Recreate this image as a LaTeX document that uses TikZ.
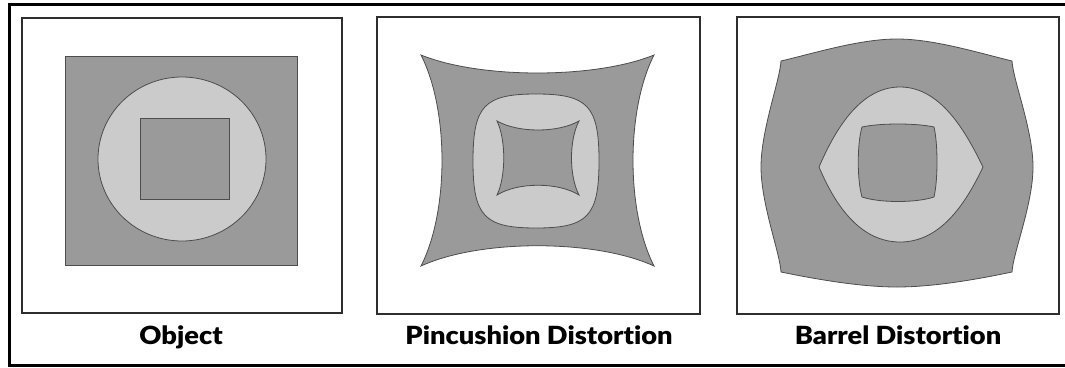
\documentclass[tikz,border=0pt]{standalone}
\usepackage{fontspec}
\IfFontExistsTF{Lato Black}
  {\setmainfont{Lato}[BoldFont={Lato Black}, Ligatures={NoCommon}]\newcommand{\capscale}{1.09}}
  {\setmainfont{Lato}[BoldFeatures={FakeBold=1.5}, Ligatures={NoCommon}]\newcommand{\capscale}{1.2}}
\definecolor{darkfill}{HTML}{9A9A9A}
\definecolor{lightfill}{HTML}{CBCBCB}
\definecolor{edge}{HTML}{4D4D4D}
\definecolor{boxline}{HTML}{2E2E2E}
\tikzset{
  darkshape/.style={fill=darkfill, draw=edge, line width=0.8pt},
  lightshape/.style={fill=lightfill, draw=edge, line width=0.8pt},
  panel/.style={draw=boxline, line width=2pt},
  caption/.style={anchor=base, font=\fontsize{25}{26}\selectfont\bfseries, inner sep=0pt}
}
\begin{document}
\begin{tikzpicture}[x=1pt, y=-1pt]
\useasboundingbox (0,0) rectangle (1065,367);
% outer frame (cut off at right)
\draw[line width=3pt, black] (1075,4) -- (9,4) -- (9,365) -- (1075,365);
% panels
\draw[panel] (22,18) rectangle (342,313);
\draw[panel] (377,17) rectangle (700,314);
\draw[panel] (737,17) rectangle (1059,314);

% ---------- Object ----------
\draw[darkshape] (65,56) rectangle (297,265);
\draw[lightshape] (182,159) ellipse [x radius=84, y radius=82];
\draw[darkshape] (140,118) rectangle (229,199);
\node[caption] (obj) at (181,344) {\scalebox{\capscale}[1]{Object}};

% ---------- Pincushion ----------
\draw[darkshape] (421,55) .. controls (480,79) and (595,79) .. (654,55)
  .. controls (626,110) and (626,211) .. (654,266)
  .. controls (595,239) and (480,239) .. (421,266)
  .. controls (449,211) and (449,110) .. cycle;
\draw[lightshape] (536,94) .. controls (588,94) and (599,106) .. (599,161)
  .. controls (599,216) and (588,228) .. (536,228)
  .. controls (484,228) and (473,216) .. (473,161)
  .. controls (473,106) and (484,94) .. cycle;
\draw[darkshape] (497,121) .. controls (518,133) and (558,133) .. (579,121)
  .. controls (569,140) and (569,176) .. (579,195)
  .. controls (558,182) and (518,182) .. (497,195)
  .. controls (506,176) and (506,140) .. cycle;
\node[caption] (pin) at (539,344) {\scalebox{\capscale}[1]{Pincushion Distortion}};

% ---------- Barrel ----------
\draw[darkshape] (781,61) .. controls (815,53) and (860,39) .. (897,39)
  .. controls (934,39) and (979,53) .. (1012,61)
  .. controls (1013,80) and (1033,130) .. (1033,167)
  .. controls (1033,204) and (1013,253) .. (1012,272)
  .. controls (979,279) and (934,287) .. (897,287)
  .. controls (860,287) and (815,279) .. (781,272)
  .. controls (780,253) and (761,204) .. (761,167)
  .. controls (761,130) and (780,80) .. cycle;
\draw[lightshape] (819,167) .. controls (835,130) and (860,87) .. (900,87)
  .. controls (940,87) and (965,130) .. (983,167)
  .. controls (965,205) and (940,242) .. (900,242)
  .. controls (860,242) and (835,205) .. cycle;
\draw[darkshape] (862,127) .. controls (880,123) and (916,123) .. (934,127)
  .. controls (938,144) and (938,180) .. (934,197)
  .. controls (916,203) and (880,203) .. (862,197)
  .. controls (857,180) and (857,144) .. cycle;
\node[caption] (bar) at (898,344) {\scalebox{\capscale}[1]{Barrel Distortion}};
\end{tikzpicture}
\end{document}
